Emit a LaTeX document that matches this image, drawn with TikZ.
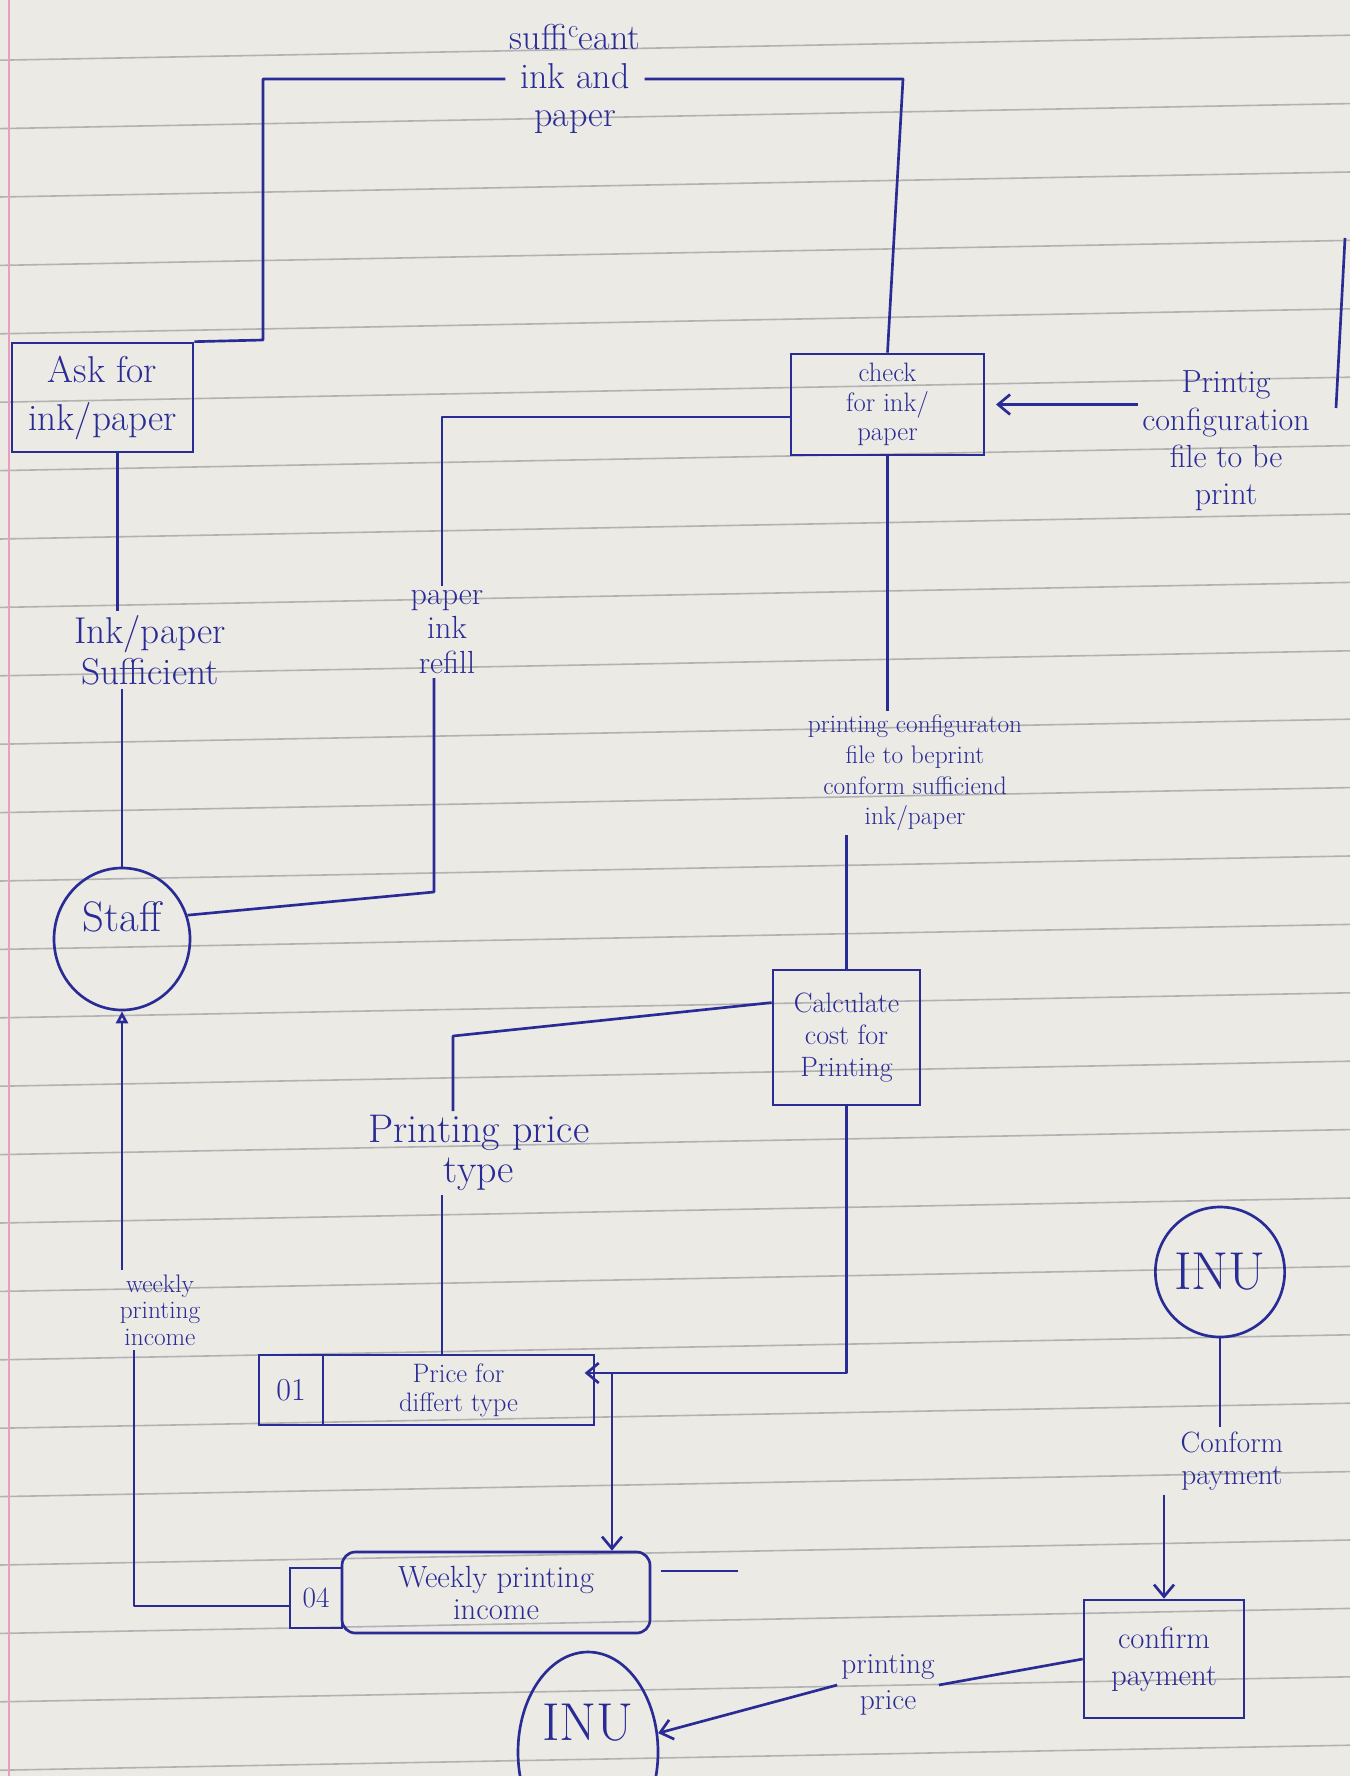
\documentclass[tikz,border=0pt]{standalone}
\usepackage{amsmath}
\usepackage{tikz}
\usetikzlibrary{calc,arrows.meta,shapes.geometric}
\definecolor{inkblue}{RGB}{42,44,150}
\definecolor{papercol}{RGB}{236,234,229}
\definecolor{rulecol}{RGB}{178,178,178}
\definecolor{marginpink}{RGB}{232,158,188}

\begin{document}
\begin{tikzpicture}[x=0.75pt,y=0.75pt,yscale=-1,xscale=1,
  ink/.style={draw=inkblue,line width=2pt},
  proc/.style={ink,rectangle,inner sep=2pt,align=center,text=inkblue},
  ent/.style={ink,ellipse,inner sep=0pt,text=inkblue},
  store/.style={ink,rectangle,inner sep=2pt,align=center,text=inkblue},
  lbl/.style={align=center,text=inkblue,inner sep=3pt},
  flow/.style={ink,line join=round},
  vtip/.style={-{Straight Barb[length=9pt,width=15pt]}},
  ttip/.style={-{Triangle[open,length=9pt,width=9pt]}}]
\useasboundingbox (0,0) rectangle (1350,1776);
\clip (0,0) rectangle (1350,1776);
%Paper
\fill[papercol] (0,0) rectangle (1350,1776);
\foreach \k in {-1,...,25}
  \draw[rulecol,line width=1.2pt] (0,{60.2+68.4*\k}) -- (1350,{35.2+68.4*\k});
\draw[marginpink,line width=1.4pt] (9,0) -- (9,1776);

%Shape: Rectangle [Ask for ink/paper]
\node[proc,minimum width=135.75pt,minimum height=81.75pt,font=\fontsize{28}{36}\selectfont] (ask) at (102.5,397.5) {Ask for\\ink/paper};
%Shape: Rectangle [check for ink/paper]
\node[proc,minimum width=144.75pt,minimum height=75.75pt,font=\fontsize{20}{22}\selectfont] (check) at (887.5,404.5) {check\\for ink/\\paper};
%Shape: Rectangle [Calculate cost]
\node[proc,minimum width=110.25pt,minimum height=101.25pt,font=\fontsize{21}{24}\selectfont] (calc) at (846.5,1037.5) {Calculate\\cost for\\Printing};
%Shape: Rectangle [confirm payment]
\node[proc,minimum width=120pt,minimum height=88.5pt,font=\fontsize{23}{28}\selectfont] (confirm) at (1164,1659) {confirm\\payment};
%Shape: Ellipse [Staff]
\node[ent,minimum width=102pt,minimum height=106.5pt,
  label={[anchor=north,inner ysep=26pt,text=inkblue,font=\fontsize{32}{32}\selectfont]north:Staff}] (staff) at (122,939) {};
%Shape: Ellipse [INU]
\node[ent,minimum width=93.75pt,minimum height=97.5pt,font=\fontsize{40}{40}\selectfont] (inuA) at (1220,1272) {INU};
\node[ent,minimum width=105pt,minimum height=150pt,
  label={[anchor=north,inner ysep=40pt,text=inkblue,font=\fontsize{40}{40}\selectfont]north:INU}] (inuB) at (588,1752) {};
%Shape: Data store [01]
\node[store,minimum width=48pt,minimum height=52.5pt,font=\fontsize{24}{24}\selectfont] (sOneId) at (291,1390) {01};
\node[store,minimum width=203.25pt,minimum height=52.5pt,font=\fontsize{20}{22}\selectfont] (sOneName) at (458.5,1390) {Price for\\differt type};
%Shape: Data store [04]
\node[store,minimum width=39pt,minimum height=45pt,font=\fontsize{22}{22}\selectfont] (sFourId) at (316,1598) {04};
\node[store,rounded corners=10pt,minimum width=231pt,minimum height=60.75pt,font=\fontsize{23}{24}\selectfont] (sFourName) at (496,1592.5) {Weekly printing\\income};

%Text Node
\node[lbl,font=\fontsize{27}{29}\selectfont] (lblSuff) at (575,79) {suffi\textsuperscript{c}eant\\ink and\\paper};
\node[lbl,font=\fontsize{28}{31}\selectfont] (lblAsk) at (150,650) {Ink/paper\\Sufficient};
\node[lbl,font=\fontsize{24}{26}\selectfont] (lblRef) at (447,632) {paper\\ink\\refill};
\node[lbl,font=\fontsize{24}{28}\selectfont] (lblCfg) at (1226,441) {Printig\\configuration\\file to be\\print};
\node[lbl,font=\fontsize{19}{23}\selectfont] (lblConf) at (915,773) {printing configuraton\\file to beprint\\conform sufficiend\\ink/paper};
\node[lbl,font=\fontsize{30}{30}\selectfont] (lblPrice) at (479,1153) {Printing price\\type};
\node[lbl,font=\fontsize{19}{20}\selectfont] (lblWk) at (160,1310) {weekly\\printing\\income};
\node[lbl,font=\fontsize{22}{24}\selectfont] (lblPay) at (1232,1461) {Conform\\payment};
\node[lbl,font=\fontsize{22}{27}\selectfont] (lblPrc) at (888,1685) {printing\\price};

%Straight Lines
\coordinate (cTR) at (903,79);
\coordinate (cTL) at (263,79);
\coordinate (cAskJ) at (263,340);
\draw[flow] (check.north) -- (cTR) -- (lblSuff.east);
\draw[flow] (lblSuff.west) -- (cTL) -- (cAskJ) -- (ask.north east);

\draw[flow] ([xshift=11pt]ask.south) -- ([xshift=11pt]ask.south |- lblAsk.north);
\draw[flow] (lblAsk.south -| staff.north) -- (staff.north);

\coordinate (cRefT) at (442,417);
\coordinate (cRefB) at (434,892);
\draw[flow] (cRefT |- lblRef.north) -- (cRefT) -- (cRefT -| check.west);
\draw[flow] (staff.20) -- (cRefB) -- (cRefB |- lblRef.south);

\draw[flow,vtip,shorten >=8pt] (lblCfg.west |- check.east) -- (check.east);
\draw[flow] (1345,238) -- (1336,408);

\draw[flow] (check.south) -- (check.south |- lblConf.north);
\draw[flow] (calc.north |- lblConf.south) -- (calc.north);

\coordinate (cPr) at (453,1036);
\coordinate (cPrB) at (442,1189);
\draw[flow] (calc.155) -- (cPr) -- (cPr |- lblPrice.north);
\draw[flow] (lblPrice.south -| cPrB) -- (cPrB |- sOneName.north);

\coordinate (cJn) at (612,1373);
\draw[flow,vtip,shorten >=-8pt] (calc.south) -- (calc.south |- cJn) -- (cJn -| sOneName.east);
\draw[flow,vtip] (cJn) -- (cJn |- sFourName.north);

\coordinate (cWk) at (134,1606);
\draw[flow] (sFourId.west |- cWk) -- (cWk) -- (cWk |- lblWk.south);
\draw[flow,ttip] (lblWk.north -| staff.south) -- (staff.south);

\coordinate (cOut) at (738,1571);
\draw[flow] ([xshift=7pt]sFourName.east |- cOut) -- (cOut);

\draw[flow] (inuA.south) -- (inuA.south |- lblPay.north);
\draw[flow,vtip] (confirm.north |- lblPay.south) -- (confirm.north);

\draw[flow] (confirm.west) -- (lblPrc.east);
\draw[flow,vtip] (lblPrc.west) -- (inuB);
\end{tikzpicture}
\end{document}
